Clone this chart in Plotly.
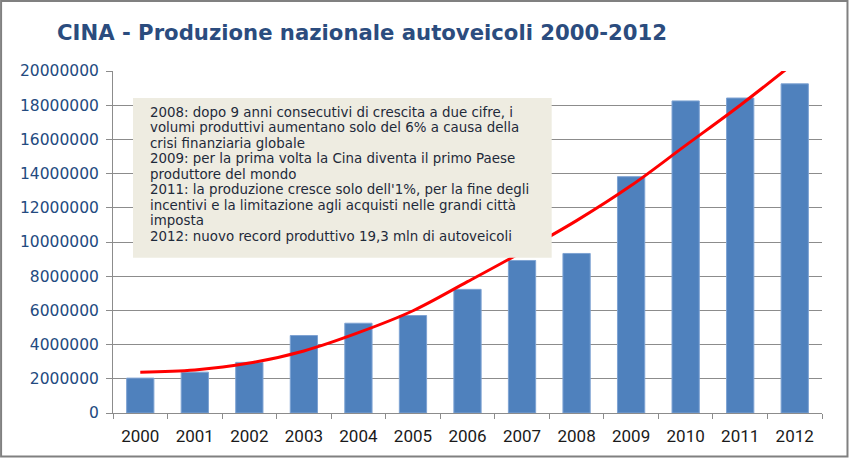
import plotly.graph_objects as go

years = ["2000", "2001", "2002", "2003", "2004", "2005", "2006",
         "2007", "2008", "2009", "2010", "2011", "2012"]
production = [2040000, 2390000, 2960000, 4530000, 5250000, 5700000, 7230000,
              8920000, 9330000, 13820000, 18250000, 18420000, 19250000]
trend = [2390000, 2520000, 2920000, 3630000, 4700000, 5980000, 7680000,
         9420000, 11250000, 13300000, 15650000, 18000000, 20500000]
y_ticks = [0, 2000000, 4000000, 6000000, 8000000, 10000000, 12000000,
           14000000, 16000000, 18000000, 20000000]

title_text = "CINA - Produzione nazionale autoveicoli 2000-2012"
note_lines = [
    "2008: dopo 9 anni consecutivi di crescita a due cifre, i",
    "volumi produttivi aumentano solo del 6% a causa della",
    "crisi finanziaria globale",
    "2009: per la prima volta la Cina diventa il primo Paese",
    "produttore del mondo",
    "2011: la produzione cresce solo dell'1%, per la fine degli",
    "incentivi e la limitazione agli acquisti nelle grandi città",
    "imposta",
    "2012: nuovo record produttivo 19,3 mln di autoveicoli",
]

W, H = 852, 461
L, R, T, B = 113, 822.5, 71, 413.5


def px(x):
    return (x - L) / (R - L)


def py(y):
    return (B - y) / (B - T)


fig = go.Figure()
fig.add_trace(go.Bar(
    x=years, y=production,
    marker=dict(color="#4F81BD", line=dict(color="#7EA3D3", width=1)),
    showlegend=False,
))
fig.add_trace(go.Scatter(
    x=years, y=trend, mode="lines",
    line=dict(color="#FF0000", width=3, shape="spline", smoothing=1),
    showlegend=False,
))

fig.update_layout(
    width=W, height=H,
    margin=dict(l=L, r=W - R, t=T, b=H - B, pad=0),
    paper_bgcolor="white", plot_bgcolor="white",
    bargap=0.5,
    title=dict(text="<b>" + title_text + "</b>", x=57 / W, xanchor="left",
               xref="container", y=1 - 33 / H, yanchor="middle", yref="container",
               font=dict(family="DejaVu Sans", size=21.2, color="#2B4C7E")),
    xaxis=dict(type="category", showgrid=False, showline=True,
               linecolor="#8C8C8C", linewidth=1, ticks="outside",
               tickson="boundaries", ticklen=5, tickcolor="#8C8C8C",
               tickfont=dict(family="Roboto", size=17, color="#1A1A1A"),
               ticklabelstandoff=8),
    yaxis=dict(range=[0, 20000000], tickvals=y_ticks,
               ticktext=[str(v) for v in y_ticks],
               showgrid=True, gridcolor="#8C8C8C", gridwidth=1,
               showline=True, linecolor="#8C8C8C", linewidth=1,
               ticks="outside", ticklen=6, tickcolor="#8C8C8C",
               tickfont=dict(family="DejaVu Sans", size=15.5, color="#234A80"),
               ticklabelstandoff=4, zeroline=False),
)

# annotation box
fig.add_shape(type="rect", xref="paper", yref="paper",
              x0=px(133), x1=px(552), y0=py(258), y1=py(98),
              fillcolor="#EEECE1", line=dict(width=0), layer="above")
for i, line in enumerate(note_lines):
    fig.add_annotation(xref="paper", yref="paper", x=px(148), y=py(112.5 + 15.5 * i),
                       xanchor="left", yanchor="middle", align="left",
                       showarrow=False, text=line,
                       font=dict(family="DejaVu Sans", size=13.4, color="#1E2A3A"))

# outer frame
fig.add_shape(type="rect", xref="paper", yref="paper",
              x0=px(1), x1=px(848), y0=py(457), y1=py(1),
              line=dict(color="#808080", width=2), layer="above")

fig.write_html("out.html", post_script="document.body.style.margin='0';",
               config={"displayModeBar": False})
